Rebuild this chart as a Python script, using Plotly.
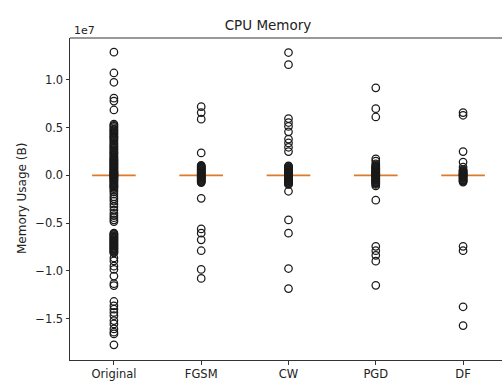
import plotly.graph_objects as go

# ---- data (values in units of 1e7 bytes) ----
categories = ["Original", "FGSM", "CW", "PGD", "DF"]

original_outliers = [1.289, 1.071, 0.974, 0.808, 0.777, 0.684,
                     0.536, 0.524, 0.512, 0.50, 0.484, 0.475, 0.465, 0.450, 0.440, 0.430,
                     0.415, 0.405, 0.395, 0.385, 0.373, 0.360, 0.345, 0.330,
                     0.318, 0.305, 0.295, 0.282, 0.270, 0.258, 0.245, 0.235, 0.225, 0.212,
                     0.200, 0.190, 0.180, 0.170, 0.162, 0.153, 0.145, 0.136, 0.128, 0.120,
                     0.111, 0.102, 0.094, 0.085, 0.077, 0.068, 0.060, 0.051, 0.042, 0.036,
                     0.030, 0.025, 0.020, 0.015, 0.010, 0.005,
                     -0.005, -0.010, -0.015, -0.020, -0.027, -0.034, -0.042, -0.050, -0.060,
                     -0.070, -0.080, -0.090, -0.100, -0.110, -0.118, -0.125, -0.138,
                     -0.155, -0.172, -0.195, -0.224, -0.245, -0.269, -0.300, -0.328, -0.363,
                     -0.397, -0.420, -0.442, -0.465, -0.483,
                     -0.604, -0.612, -0.620, -0.630, -0.639, -0.647, -0.655, -0.665, -0.674,
                     -0.682, -0.690, -0.700, -0.708, -0.717, -0.725, -0.733, -0.742,
                     -0.751, -0.760, -0.768, -0.777, -0.786, -0.795, -0.803, -0.811,
                     -0.863, -0.895, -0.950, -0.984, -1.053,
                     -1.133, -1.153, -1.319, -1.364, -1.399, -1.433, -1.468, -1.519, -1.554,
                     -1.606, -1.640, -1.658, -1.772]

fgsm_outliers = [0.719, 0.657, 0.588, 0.235,
                 0.105, 0.098, 0.090, 0.083, 0.075, 0.068, 0.060, 0.053, 0.045, 0.038,
                 0.030, 0.024, 0.018, 0.012, 0.006,
                 -0.006, -0.012, -0.018, -0.024, -0.030, -0.038, -0.045, -0.053, -0.060,
                 -0.068, -0.075,
                 -0.240, -0.560, -0.604, -0.674, -0.788, -0.984, -1.078]

cw_outliers = [1.285, 1.158, 0.595, 0.553, 0.512, 0.456, 0.380, 0.339, 0.294, 0.249,
               0.100, 0.093, 0.085, 0.078, 0.070, 0.062, 0.055, 0.048, 0.040, 0.035,
               0.030, 0.024, 0.018, 0.012, 0.006,
               -0.006, -0.012, -0.018, -0.024, -0.030, -0.037, -0.044, -0.050, -0.058,
               -0.065, -0.072, -0.080, -0.088, -0.095,
               -0.166, -0.466, -0.604, -0.974, -1.184]

pgd_outliers = [0.916, 0.698, 0.611, 0.173, 0.150, 0.121,
                0.105, 0.095, 0.088, 0.080, 0.072, 0.065, 0.058, 0.050, 0.043, 0.035,
                0.030, 0.025, 0.020, 0.015, 0.010, 0.005,
                -0.005, -0.010, -0.018, -0.025, -0.032, -0.040, -0.048, -0.055, -0.063,
                -0.070, -0.078, -0.085, -0.095, -0.110,
                -0.259, -0.742, -0.788, -0.836, -0.897, -1.150]

df_outliers = [0.657, 0.629, 0.249, 0.139, 0.087,
               0.060, 0.050, 0.043, 0.035, 0.028, 0.020, 0.015, 0.010, 0.005,
               -0.005, -0.010, -0.018, -0.025, -0.032, -0.040, -0.048, -0.055, -0.062,
               -0.070,
               -0.742, -0.788, -1.374, -1.571]

outliers = [original_outliers, fgsm_outliers, cw_outliers, pgd_outliers, df_outliers]

# box statistics (collapsed boxes, median at zero)
q1 = [0, 0, 0, 0, 0]
median = [0, 0, 0, 0, 0]
q3 = [0, 0, 0, 0, 0]

y_ticks = [-1.5, -1.0, -0.5, 0.0, 0.5, 1.0]
y_ticklabels = ["\u22121.5", "\u22121.0", "\u22120.5", "0.0", "0.5", "1.0"]
SCALE = 1e7

positions = list(range(1, len(categories) + 1))

fig = go.Figure()

for pos, vals in zip(positions, outliers):
    fig.add_trace(go.Scatter(
        x=[pos] * len(vals),
        y=[v * SCALE for v in vals],
        mode="markers",
        marker=dict(symbol="circle-open", size=7.5, color="#1a1a1a",
                    line=dict(width=1.25, color="#1a1a1a")),
        showlegend=False, hoverinfo="y",
    ))

fig.add_trace(go.Box(
    x=positions,
    q1=[v * SCALE for v in q1],
    median=[v * SCALE for v in median],
    q3=[v * SCALE for v in q3],
    lowerfence=[v * SCALE for v in q1],
    upperfence=[v * SCALE for v in q3],
    width=0.5,
    boxpoints=False,
    line=dict(color="#dc7a2c", width=1.8),
    fillcolor="rgba(0,0,0,0)",
    whiskerwidth=0.5,
    showlegend=False,
))

font = "DejaVu Sans, Arial, sans-serif"
axcol = "#333333"
txtcol = "#222222"

fig.update_layout(
    width=502, height=381,
    margin=dict(l=70, r=0, t=38, b=18),
    paper_bgcolor="white", plot_bgcolor="white",
    font=dict(family=font, size=11.5, color=txtcol),
    title=dict(text="CPU Memory", x=268 / 502, xanchor="center",
               y=1 - 25 / 381, yanchor="middle",
               font=dict(family=font, size=13.5, color=txtcol)),
    xaxis=dict(range=[0.497, 5.446], tickmode="array", tickvals=positions,
               ticktext=categories, ticks="outside", ticklen=3.5, tickwidth=0.9,
               tickcolor=axcol, showline=True, linecolor=axcol, linewidth=1,
               showgrid=False, zeroline=False,
               tickfont=dict(family=font, size=11.5, color=txtcol)),
    yaxis=dict(range=[-1.931 * SCALE, 1.437 * SCALE], tickmode="array",
               tickvals=[t * SCALE for t in y_ticks], ticktext=y_ticklabels,
               ticks="outside", ticklen=3.5, tickwidth=0.9, tickcolor=axcol,
               showline=True, linecolor=axcol, linewidth=1,
               showgrid=False, zeroline=False,
               tickfont=dict(family=font, size=11.5, color=txtcol)),
    shapes=[dict(type="line", xref="paper", yref="paper", x0=0, x1=1.02, y0=1, y1=1,
                 line=dict(color=axcol, width=1))],
    annotations=[
        dict(text="1e7", xref="paper", yref="paper", x=0.004, y=1.0225,
             xanchor="left", yanchor="middle", showarrow=False,
             font=dict(family=font, size=11, color=txtcol)),
        dict(text="Memory Usage (B)", xref="paper", yref="paper", x=-0.111, y=0.5,
             xanchor="center", yanchor="middle", textangle=-90, showarrow=False,
             font=dict(family=font, size=12, color=txtcol)),
    ],
)

fig.write_html("out.html")
